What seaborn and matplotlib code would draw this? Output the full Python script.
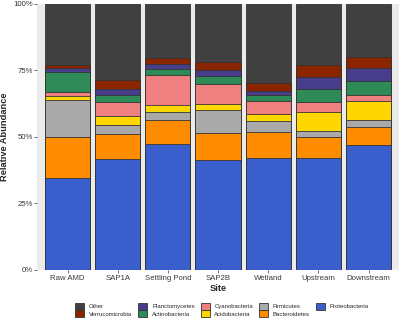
import numpy as np
import pandas as pd
import matplotlib
matplotlib.use("Agg")
import matplotlib.pyplot as plt
import seaborn as sns
from matplotlib.patches import Patch

# Дані (відсотки, знизу вгору)
sites = ["Raw AMD", "SAP1A", "Settling Pond", "SAP2B", "Wetland", "Upstream", "Downstream"]
taxa = ["Proteobacteria", "Bacteroidetes", "Firmicutes", "Acidobacteria", "Cyanobacteria",
        "Actinobacteria", "Planctomycetes", "Verrucomicrobia", "Other"]

proteobacteria = [34.5, 41.8, 47.2, 41.4, 42.2, 42.2, 47.0]
bacteroidetes = [15.6, 9.2, 9.2, 10.0, 9.8, 7.7, 6.9]
firmicutes = [13.8, 3.4, 3.1, 8.8, 4.1, 2.3, 2.5]
acidobacteria = [1.5, 3.6, 2.4, 2.3, 2.7, 7.3, 7.3]
cyanobacteria = [1.5, 5.2, 11.5, 7.3, 4.6, 3.7, 2.0]
actinobacteria = [7.7, 2.7, 2.2, 3.1, 2.4, 4.7, 5.2]
planctomycetes = [1.2, 2.3, 2.0, 2.2, 1.6, 4.8, 4.9]
verrucomicrobia = [1.2, 3.2, 2.2, 3.0, 2.9, 4.3, 4.2]
other = [23.0, 28.6, 20.2, 21.9, 29.7, 23.0, 20.0]

colors = {
    "Other": "#404040",
    "Verrucomicrobia": "#8B2500",
    "Planctomycetes": "#483D8B",
    "Actinobacteria": "#2E8B57",
    "Cyanobacteria": "#F08080",
    "Acidobacteria": "#FFD700",
    "Firmicutes": "#A9A9A9",
    "Bacteroidetes": "#FF8C00",
    "Proteobacteria": "#3A5FCD",
}

df = pd.DataFrame({
    "Site": sites,
    "Proteobacteria": proteobacteria,
    "Bacteroidetes": bacteroidetes,
    "Firmicutes": firmicutes,
    "Acidobacteria": acidobacteria,
    "Cyanobacteria": cyanobacteria,
    "Actinobacteria": actinobacteria,
    "Planctomycetes": planctomycetes,
    "Verrucomicrobia": verrucomicrobia,
    "Other": other,
})

# Кумулятивні суми для накладених стовпців
cum = df[taxa].cumsum(axis=1)
cum["Site"] = df["Site"]

sns.set_theme(style="white")
plt.rcParams["font.family"] = ["Liberation Sans", "DejaVu Sans"]

fig = plt.figure(figsize=(4.0, 3.24), dpi=100)
ax = fig.add_axes([0.0935, 0.1667, 0.903, 0.821])
ax.set_facecolor("#EBEBEB")

for t in reversed(taxa):
    sns.barplot(data=cum, x="Site", y=t, order=sites, color=colors[t], width=0.9,
                edgecolor="#333333", linewidth=0.6, saturation=1, ax=ax)

ax.set_xlim(-0.6, 6.6)
ax.set_ylim(0, 100)
ax.set_yticks([0, 25, 50, 75, 100])
ax.set_yticklabels(["0%", "25%", "50%", "75%", "100%"])
for s in ax.spines.values():
    s.set_visible(False)
ax.tick_params(axis="both", length=2, width=0.5, color="#333333", labelsize=5.6,
               labelcolor="#3A3A3A", pad=1.5, left=True, bottom=True)
ax.set_xlabel("Site", fontsize=6.7, fontweight="bold", labelpad=1.5)
ax.set_ylabel("Relative Abundance", fontsize=6.7, fontweight="bold", labelpad=3)

legend_order = ["Other", "Verrucomicrobia", "Planctomycetes", "Actinobacteria", "Cyanobacteria",
                "Acidobacteria", "Firmicutes", "Bacteroidetes", "Proteobacteria"]
handles = [Patch(facecolor=colors[t], edgecolor="#333333", linewidth=0.6, label=t) for t in legend_order]
fig.legend(handles=handles, ncol=5, loc="center", bbox_to_anchor=(0.555, 0.043),
           frameon=False, fontsize=4.3, handlelength=1.5, handleheight=1.5,
           labelspacing=0.0, columnspacing=1.0, handletextpad=0.8)

plt.savefig("out.png", dpi=100)
